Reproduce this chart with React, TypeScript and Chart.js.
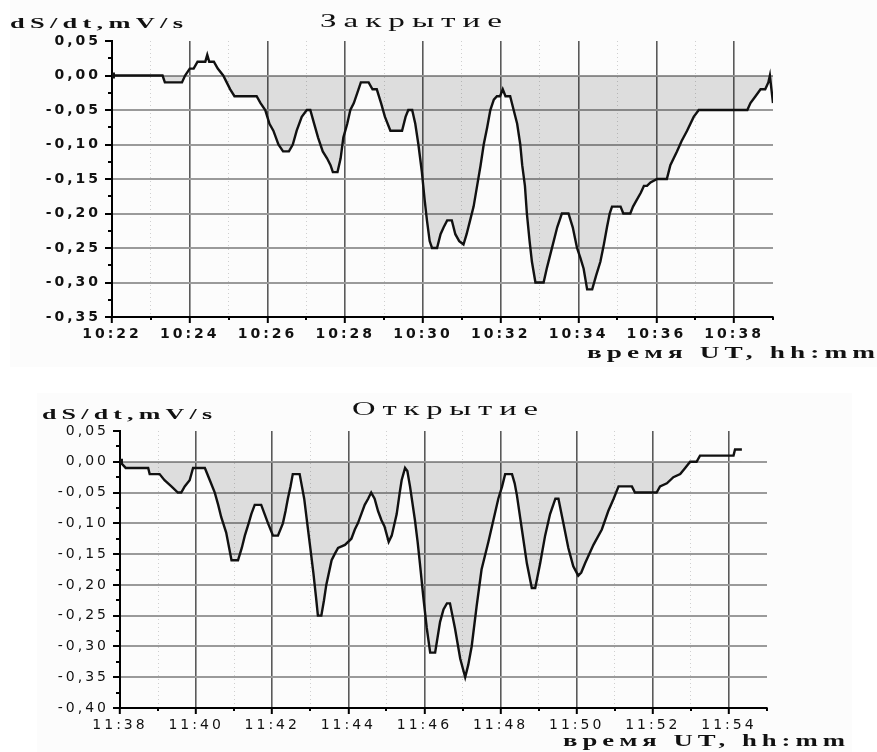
import React, { useEffect, useRef } from 'react';
import { Chart, registerables } from 'chart.js';

Chart.register(...registerables);

// ---- Data: minutes past the hour, dS/dt values (mV/s) ----
const closeTimes = [
  22.0, 23.3, 23.36, 23.8, 23.88, 24.0, 24.1, 24.2, 24.4, 24.45, 24.5, 24.62, 24.72, 24.86, 24.95,
  25.04, 25.15, 25.72, 25.82, 25.94, 26.05, 26.15, 26.28, 26.4, 26.55, 26.65, 26.75, 26.88, 27.01,
  27.1, 27.2, 27.3, 27.42, 27.53, 27.62, 27.68, 27.8, 27.88, 27.95, 28.05, 28.13, 28.22, 28.34,
  28.4, 28.6, 28.7, 28.81, 28.92, 29.02, 29.16, 29.46, 29.55, 29.62, 29.72, 29.8, 29.88, 29.97,
  30.04, 30.1, 30.17, 30.23, 30.36, 30.45, 30.53, 30.62, 30.74, 30.83, 30.93, 31.04, 31.12, 31.21,
  31.3, 31.39, 31.48, 31.56, 31.65, 31.73, 31.82, 31.9, 31.98, 32.05, 32.12, 32.24, 32.33, 32.42,
  32.5, 32.55, 32.62, 32.67, 32.74, 32.8, 32.89, 33.1, 33.18, 33.27, 33.36, 33.45, 33.57, 33.74,
  33.85, 33.96, 34.05, 34.13, 34.22, 34.35, 34.45, 34.56, 34.65, 34.73, 34.8, 34.86, 35.08, 35.15,
  35.33, 35.4, 35.5, 35.6, 35.68, 35.76, 35.85, 36.02, 36.27, 36.36, 36.53, 36.65, 36.79, 36.96,
  37.09, 38.34, 38.42, 38.55, 38.68, 38.8, 38.88, 38.92, 38.96, 39.0,
];
const closeValues = [
  0.0, 0.0, -0.01, -0.01, 0.0, 0.01, 0.01, 0.02, 0.02, 0.03, 0.02, 0.02, 0.01, 0.0, -0.01,
  -0.02, -0.03, -0.03, -0.04, -0.05, -0.07, -0.08, -0.1, -0.11, -0.11, -0.1, -0.08, -0.06, -0.05,
  -0.05, -0.07, -0.09, -0.11, -0.12, -0.13, -0.14, -0.14, -0.12, -0.09, -0.07, -0.05, -0.04, -0.02,
  -0.01, -0.01, -0.02, -0.02, -0.04, -0.06, -0.08, -0.08, -0.06, -0.05, -0.05, -0.07, -0.1, -0.14,
  -0.18, -0.21, -0.24, -0.25, -0.25, -0.23, -0.22, -0.21, -0.21, -0.23, -0.24, -0.245, -0.23, -0.21,
  -0.19, -0.16, -0.13, -0.1, -0.075, -0.05, -0.035, -0.03, -0.03, -0.02, -0.03, -0.03, -0.05, -0.07,
  -0.1, -0.13, -0.16, -0.2, -0.24, -0.27, -0.3, -0.3, -0.28, -0.26, -0.24, -0.22, -0.2, -0.2,
  -0.22, -0.25, -0.265, -0.28, -0.31, -0.31, -0.29, -0.27, -0.245, -0.22, -0.2, -0.19, -0.19, -0.2,
  -0.2, -0.19, -0.18, -0.17, -0.16, -0.16, -0.155, -0.15, -0.15, -0.13, -0.11, -0.095, -0.08, -0.06,
  -0.05, -0.05, -0.04, -0.03, -0.02, -0.02, -0.01, 0.0, -0.02, -0.04,
];

const openTimes = [
  38.0, 38.15, 38.74, 38.78, 39.04, 39.17, 39.35, 39.52, 39.61, 39.7, 39.83, 39.92, 40.23, 40.36,
  40.49, 40.58, 40.66, 40.79, 40.93, 41.1, 41.2, 41.28, 41.38, 41.45, 41.54, 41.71, 41.8, 41.89,
  42.02, 42.15, 42.28, 42.35, 42.41, 42.48, 42.54, 42.72, 42.78, 42.84, 42.92, 43.0, 43.08, 43.15,
  43.2, 43.29, 43.36, 43.42, 43.56, 43.64, 43.73, 43.91, 44.08, 44.17, 44.25, 44.34, 44.43, 44.52,
  44.6, 44.69, 44.78, 44.87, 44.95, 45.06, 45.14, 45.27, 45.35, 45.4, 45.49, 45.55, 45.62, 45.75,
  45.82, 45.88, 45.97, 46.06, 46.15, 46.28, 46.41, 46.5, 46.59, 46.67, 46.8, 46.94, 47.07, 47.15,
  47.24, 47.37, 47.5, 47.68, 47.81, 47.94, 48.04, 48.12, 48.3, 48.37, 48.43, 48.56, 48.69, 48.82,
  48.91, 49.04, 49.17, 49.3, 49.44, 49.52, 49.65, 49.78, 49.91, 50.04, 50.12, 50.22, 50.44, 50.66,
  50.83, 50.97, 51.1, 51.45, 51.53, 52.1, 52.19, 52.37, 52.54, 52.72, 52.85, 52.98, 53.15, 53.24,
  54.12, 54.16, 54.34,
];
const openValues = [
  0.0, -0.01, -0.01, -0.02, -0.02, -0.03, -0.04, -0.05, -0.05, -0.04, -0.03, -0.01, -0.01, -0.03,
  -0.05, -0.07, -0.09, -0.115, -0.16, -0.16, -0.14, -0.12, -0.1, -0.085, -0.07, -0.07, -0.085, -0.1,
  -0.12, -0.12, -0.1, -0.08, -0.06, -0.04, -0.02, -0.02, -0.04, -0.06, -0.1, -0.14, -0.18, -0.22,
  -0.25, -0.25, -0.225, -0.2, -0.16, -0.15, -0.14, -0.135, -0.125, -0.11, -0.1, -0.085, -0.07, -0.06,
  -0.05, -0.06, -0.08, -0.095, -0.105, -0.13, -0.12, -0.085, -0.05, -0.03, -0.01, -0.015, -0.04, -0.095,
  -0.13, -0.165, -0.22, -0.27, -0.31, -0.31, -0.26, -0.24, -0.23, -0.23, -0.27, -0.32, -0.35, -0.33,
  -0.3, -0.235, -0.175, -0.13, -0.095, -0.06, -0.04, -0.02, -0.02, -0.035, -0.055, -0.11, -0.165, -0.205,
  -0.205, -0.165, -0.12, -0.085, -0.06, -0.06, -0.1, -0.14, -0.17, -0.185, -0.18, -0.165, -0.135, -0.11,
  -0.08, -0.06, -0.04, -0.04, -0.05, -0.05, -0.04, -0.035, -0.025, -0.02, -0.01, 0.0, 0.0, 0.01,
  0.01, 0.02, 0.02,
];

const closeTitle = 'Закрытие';
const openTitle = 'Открытие';
const yTitle = 'dS/dt,mV/s';
const xTitle = 'время UT, hh:mm';

type Txt = { text: string; x: number; y: number; font: string; w: number; ls: number };

type Spec = {
  times: number[];
  values: number[];
  hour: string;
  xMin: number;
  xMax: number;
  yMin: number;
  yMax: number;
  weight: string;
  width: number;
  height: number;
  padding: { left: number; top: number; right: number; bottom: number };
  yWidth: number;
  xHeight: number;
  bg: [number, number, number, number];
  texts: Txt[];
};

// draws text stretched horizontally (like the scanned original) to a given width
function stretchedText(ctx: CanvasRenderingContext2D, t: Txt) {
  ctx.save();
  ctx.font = t.font;
  (ctx as any).letterSpacing = t.ls + 'px';
  const w0 = ctx.measureText(t.text).width - t.ls;
  const sx = t.w / w0;
  ctx.textAlign = 'left';
  ctx.textBaseline = 'alphabetic';
  ctx.fillStyle = '#111';
  ctx.translate(t.x, t.y);
  ctx.scale(sx, 1);
  ctx.fillText(t.text, 0, 0);
  ctx.restore();
}

const isMajorY = (v: number) => Math.abs(Math.round(v * 1000)) % 50 === 0;

function makeChart(canvas: HTMLCanvasElement, s: Spec) {
  const tickFont = { family: 'DejaVu Sans', size: 14, weight: s.weight as any };
  const decor = {
    id: 'decor',
    beforeDraw(chart: any) {
      const ctx = chart.ctx as CanvasRenderingContext2D;
      ctx.save();
      ctx.fillStyle = '#fcfcfc';
      ctx.fillRect(s.bg[0], s.bg[1], s.bg[2], s.bg[3]);
      ctx.restore();
      (ctx as any).letterSpacing = '3px';
    },
    afterDraw(chart: any) {
      const ctx = chart.ctx as CanvasRenderingContext2D;
      const xs = chart.scales.x;
      const ys = chart.scales.y;
      const area = chart.chartArea;
      ctx.save();
      ctx.strokeStyle = '#000';
      ctx.lineWidth = 2;
      ctx.beginPath();
      for (let k = 1; k < Math.round((s.yMax - s.yMin) / 0.025); k += 2) {
        const v = s.yMin + k * 0.025;
        const py = Math.round(ys.getPixelForValue(v));
        ctx.moveTo(area.left - 4, py);
        ctx.lineTo(area.left, py);
      }
      for (let m = s.xMin + 1; m <= s.xMax; m += 2) {
        const px = Math.round(xs.getPixelForValue(m));
        ctx.moveTo(px, area.bottom);
        ctx.lineTo(px, area.bottom + 3);
      }
      ctx.stroke();
      ctx.restore();
      s.texts.forEach((t) => stretchedText(ctx, t));
    },
  };

  return new Chart(canvas, {
    type: 'line',
    data: {
      datasets: [
        {
          data: s.times.map((t, i) => ({ x: t, y: s.values[i] })),
          borderColor: '#111',
          borderWidth: 2.4,
          tension: 0,
          pointRadius: (c: any) => (c.dataIndex === 0 ? 2.5 : 0),
          pointStyle: 'rect',
          pointBackgroundColor: '#111',
          pointBorderColor: '#111',
          fill: { target: 'origin', above: 'rgba(0,0,0,0)', below: 'rgba(0,0,0,0.12)' },
        } as any,
      ],
    },
    options: {
      animation: false,
      responsive: false,
      devicePixelRatio: 1,
      events: [],
      layout: { padding: s.padding },
      plugins: { legend: { display: false }, tooltip: { enabled: false } },
      scales: {
        x: {
          type: 'linear',
          min: s.xMin,
          max: s.xMax,
          afterFit: (sc: any) => {
            sc.height = s.xHeight;
          },
          ticks: {
            stepSize: 1,
            autoSkip: false,
            maxRotation: 0,
            minRotation: 0,
            padding: 3,
            color: '#111',
            font: tickFont,
            callback: (v: any) => {
              const m = Math.round(Number(v));
              return m % 2 === 0 ? `${s.hour}:${String(m).padStart(2, '0')}` : '';
            },
          },
          grid: {
            color: (c: any) => {
              if (!c.tick) return 'rgba(0,0,0,0)';
              const m = Math.round(c.tick.value);
              if (m === s.xMin || m === s.xMax) return 'rgba(0,0,0,0)';
              return m % 2 === 0 ? '#5a5a5a' : '#cfcfcf';
            },
            lineWidth: (c: any) => (c.tick && Math.round(c.tick.value) % 2 === 0 ? 1.6 : 1),
            tickColor: (c: any) =>
              c.tick && Math.round(c.tick.value) % 2 === 0 ? '#000' : 'rgba(0,0,0,0)',
            tickLength: 6,
            tickWidth: 2,
          },
          border: {
            display: true,
            color: '#000',
            width: 2,
            dash: (c: any) => (c.tick && Math.round(c.tick.value) % 2 !== 0 ? [1, 3] : []),
          } as any,
        },
        y: {
          type: 'linear',
          min: s.yMin,
          max: s.yMax,
          afterFit: (sc: any) => {
            sc.width = s.yWidth;
          },
          ticks: {
            stepSize: 0.025,
            autoSkip: false,
            padding: 4,
            color: '#111',
            font: tickFont,
            callback: (v: any) => {
              const n = Number(v);
              if (!isMajorY(n)) return '';
              const r = Math.round(n * 100) / 100;
              return (r === 0 ? 0 : r).toFixed(2).replace('.', ',');
            },
          },
          grid: {
            color: (c: any) => {
              if (!c.tick) return 'rgba(0,0,0,0)';
              const v = c.tick.value;
              if (!isMajorY(v)) return 'rgba(0,0,0,0)';
              if (Math.abs(v - s.yMax) < 1e-6 || Math.abs(v - s.yMin) < 1e-6) return 'rgba(0,0,0,0)';
              return '#9a9a9a';
            },
            lineWidth: 2,
            tickColor: (c: any) => (c.tick && isMajorY(c.tick.value) ? '#000' : 'rgba(0,0,0,0)'),
            tickLength: 7,
            tickWidth: 2,
          },
          border: { display: true, color: '#000', width: 2 },
        },
      },
    } as any,
    plugins: [decor],
  });
}

const W = 877;

const closeSpec: Spec = {
  times: closeTimes,
  values: closeValues,
  hour: '10',
  xMin: 22,
  xMax: 39,
  yMin: -0.35,
  yMax: 0.05,
  weight: 'bold',
  width: W,
  height: 370,
  padding: { left: 0, top: 41, right: 104, bottom: 23 },
  yWidth: 112,
  xHeight: 30,
  bg: [10, 0, 867, 367],
  texts: [
    { text: closeTitle, x: 320, y: 27, font: 'normal 19px "Liberation Serif"', w: 182, ls: 4 },
    { text: yTitle, x: 10, y: 28, font: 'bold 15px "Liberation Serif"', w: 173, ls: 3 },
    { text: xTitle, x: 587, y: 358, font: 'bold 16px "Liberation Serif"', w: 288, ls: 3 },
  ],
};

const openSpec: Spec = {
  times: openTimes,
  values: openValues,
  hour: '11',
  xMin: 38,
  xMax: 55,
  yMin: -0.4,
  yMax: 0.05,
  weight: 'normal',
  width: W,
  height: 382,
  padding: { left: 0, top: 61, right: 110, bottom: 14 },
  yWidth: 120,
  xHeight: 30,
  bg: [37, 23, 815, 359],
  texts: [
    { text: openTitle, x: 352, y: 45, font: 'normal 19px "Liberation Serif"', w: 186, ls: 4 },
    { text: yTitle, x: 42, y: 49, font: 'bold 15px "Liberation Serif"', w: 170, ls: 3 },
    { text: xTitle, x: 563, y: 376, font: 'bold 16px "Liberation Serif"', w: 282, ls: 3 },
  ],
};

function Panel({ spec, top }: { spec: Spec; top: number }) {
  const ref = useRef<HTMLCanvasElement | null>(null);
  useEffect(() => {
    if (!ref.current) return;
    const chart = makeChart(ref.current, spec);
    return () => chart.destroy();
  }, [spec]);
  return (
    <canvas
      ref={ref}
      width={spec.width}
      height={spec.height}
      style={{
        position: 'absolute',
        left: 0,
        top,
        width: spec.width,
        height: spec.height,
        display: 'block',
      }}
    />
  );
}

export default function App() {
  return (
    <div
      style={{
        position: 'absolute',
        left: 0,
        top: 0,
        width: W,
        height: 752,
        background: '#ffffff',
        overflow: 'hidden',
      }}
    >
      <Panel spec={closeSpec} top={0} />
      <Panel spec={openSpec} top={370} />
    </div>
  );
}
